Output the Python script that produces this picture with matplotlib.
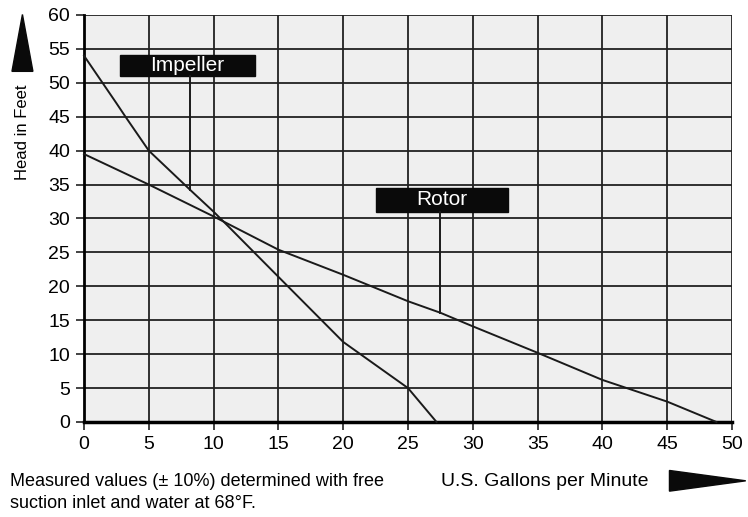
import matplotlib.pyplot as plt
import matplotlib.font_manager as fm
from matplotlib.patches import Polygon

# Pump curves (US gpm vs head in feet)
impeller_gpm = [0, 2.5, 3.2, 5, 8.2, 10, 11.0, 15, 20, 25, 27.2]
impeller_head = [54, 47, 45, 40, 34.2, 31, 29.1, 21.4, 11.8, 5, 0]
rotor_gpm = [0, 5, 10, 15, 20, 25, 27.5, 30, 35, 40, 45, 48.8]
rotor_head = [39.5, 35, 30.3, 25.4, 21.7, 17.8, 16.1, 14.1, 10.2, 6.2, 3.0, 0]

x_ticks = list(range(0, 51, 5))
y_ticks = list(range(0, 61, 5))

# label boxes: (text, x0, x1, y0, y1, pointer x, pointer y)
labels = [
    ("Impeller", 2.8, 13.2, 51.0, 54.1, 8.2, 34.2),
    ("Rotor", 22.5, 32.7, 31.0, 34.5, 27.5, 16.1),
]

names = {f.name for f in fm.fontManager.ttflist}
font = "Liberation Sans Narrow" if "Liberation Sans Narrow" in names else "Liberation Sans"
plt.rcParams["font.family"] = [font, "DejaVu Sans"]

fig = plt.figure(figsize=(7.48, 5.17), dpi=100)
ax = fig.add_axes([0.1123, 0.1838, 0.8663, 0.7872])
ax.set_facecolor("#efefef")

ax.set_xlim(0, 50)
ax.set_ylim(0, 60)
ax.set_xticks(x_ticks)
ax.set_yticks(y_ticks)
ax.grid(True, color="#222222", linewidth=1.3)
ax.set_axisbelow(True)
ax.tick_params(axis="both", labelsize=14, length=6, width=1.2, color="#222222", pad=4)
for s in ["top", "right"]:
    ax.spines[s].set_visible(False)
ax.spines["left"].set_linewidth(2)
ax.spines["bottom"].set_linewidth(2.5)

ax.plot(impeller_gpm, impeller_head, color="#1a1a1a", lw=1.4, clip_on=False, zorder=3)
ax.plot(rotor_gpm, rotor_head, color="#1a1a1a", lw=1.4, clip_on=False, zorder=3)

for text, x0, x1, y0, y1, px, py in labels:
    ax.fill([x0, x1, x1, x0], [y0, y0, y1, y1], color="#0a0a0a", zorder=4)
    ax.text((x0 + x1) / 2, (y0 + y1) / 2, text, color="white", fontsize=15,
            ha="center", va="center", zorder=5)
    ax.plot([px, px], [y0, py], color="#1a1a1a", lw=1.4, zorder=4)

# axis labels and arrows
fig.text(0.030, 0.745, "Head in Feet", rotation=90, ha="center", va="center", fontsize=12)
fig.patches.append(Polygon([[0.016, 0.862], [0.044, 0.862], [0.030, 0.972]],
                           closed=True, transform=fig.transFigure, color="#0a0a0a"))
fig.text(0.590, 0.068, "U.S. Gallons per Minute", ha="left", va="center", fontsize=14)
fig.patches.append(Polygon([[0.895, 0.050], [0.895, 0.090], [0.997, 0.070]],
                           closed=True, transform=fig.transFigure, color="#0a0a0a"))
fig.text(0.013, 0.068, "Measured values (\u00b1 10%) determined with free", ha="left",
         va="center", fontsize=13)
fig.text(0.013, 0.027, "suction inlet and water at 68\u00b0F.", ha="left",
         va="center", fontsize=13)

fig.savefig("out.png", dpi=100, facecolor="white")
